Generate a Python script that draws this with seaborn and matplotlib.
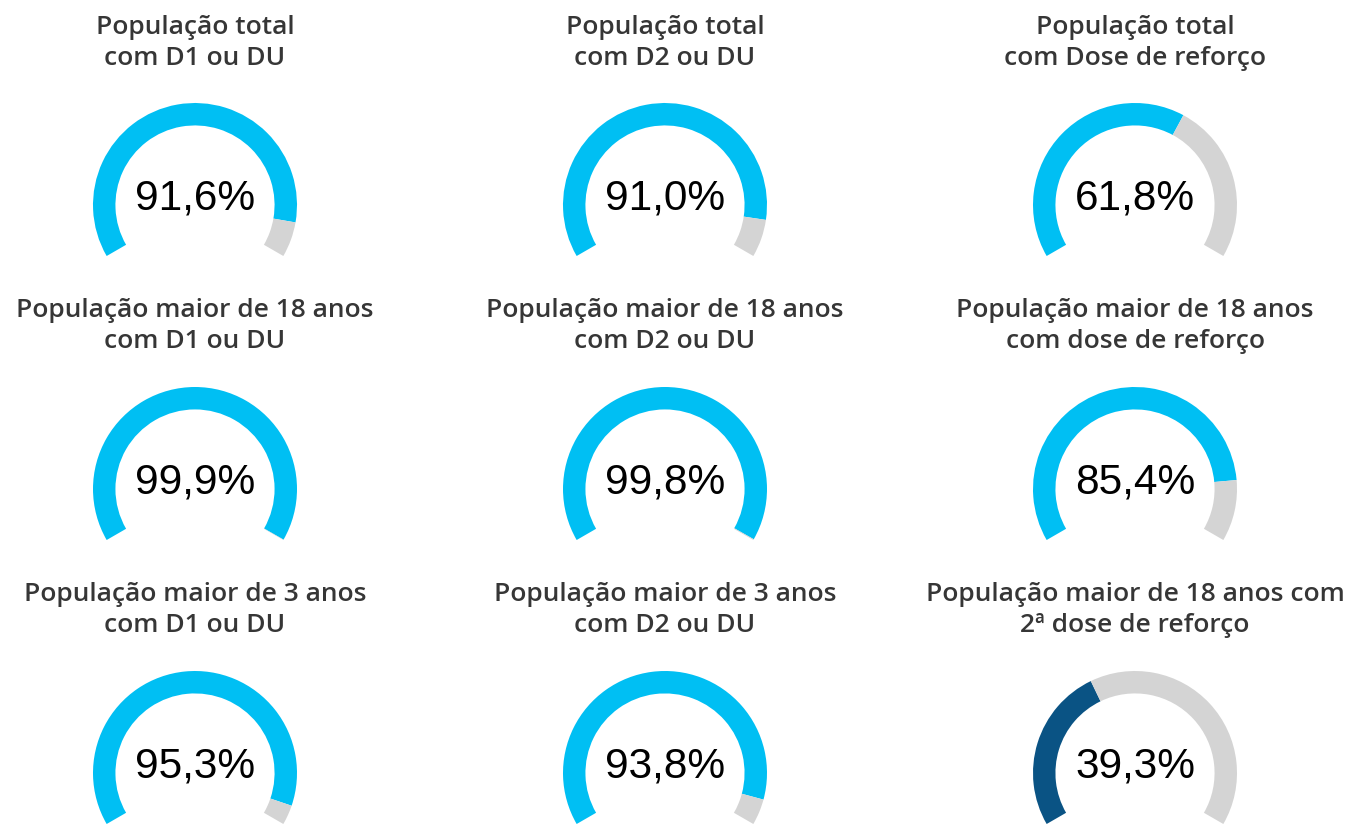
import seaborn as sns
import matplotlib.pyplot as plt

# Dados dos indicadores (percentual vacinado)
titulos = [
    "População total\ncom D1 ou DU",
    "População total\ncom D2 ou DU",
    "População total\ncom Dose de reforço",
    "População maior de 18 anos\ncom D1 ou DU",
    "População maior de 18 anos\ncom D2 ou DU",
    "População maior de 18 anos\ncom dose de reforço",
    "População maior de 3 anos\ncom D1 ou DU",
    "População maior de 3 anos\ncom D2 ou DU",
    "População maior de 18 anos com\n2ª dose de reforço",
]
valores = [91.6, 91.0, 61.8, 99.9, 99.8, 85.4, 95.3, 93.8, 39.3]
cores = ["#00bff3"] * 8 + ["#0a5384"]

sns.set_theme(style="white")

W, H = 1350, 827
fig = plt.figure(figsize=(13.5, 8.27), dpi=100)

col_x = [195, 665, 1135]
titulo_y = [43, 326, 610]
gauge_y = [205, 489, 773]
raio = 102
arco = 240  # graus do arco

for i, (titulo, v, cor) in enumerate(zip(titulos, valores, cores)):
    lin, col = divmod(i, 3)
    cx, cy = col_x[col], gauge_y[lin]
    ax = fig.add_axes([(cx - raio) / W, 1 - (cy + raio) / H, 2 * raio / W, 2 * raio / H])
    fatias = [v / 100 * arco, (1 - v / 100) * arco, 360 - arco]
    ax.pie(fatias, colors=[cor, "#d4d4d4", "none"], startangle=210,
           counterclock=False, radius=1,
           wedgeprops=dict(width=0.22, linewidth=0))
    ax.set_xlim(-1, 1)
    ax.set_ylim(-1, 1)
    ax.axis("off")
    ax.text(0, 0.06, f"{v:.1f}%".replace(".", ","), ha="center", va="center",
            fontsize=30.5, family="Liberation Sans", color="black")

    fig.text(cx / W, 1 - titulo_y[lin] / H, titulo, ha="center", va="center",
             fontsize=19, family="Open Sans", fontweight="semibold", color="#363636",
             linespacing=1.35)

fig.savefig("out.png", dpi=100, facecolor="white")
